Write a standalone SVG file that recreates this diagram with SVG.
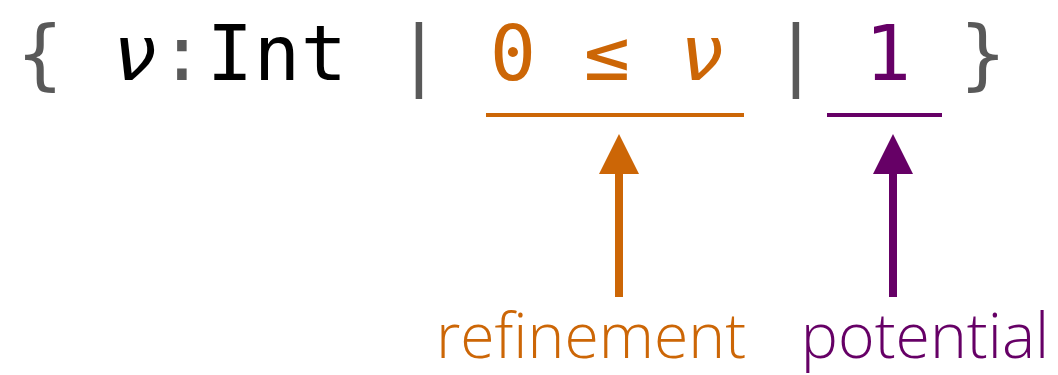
<svg xmlns="http://www.w3.org/2000/svg" width="1058" height="375" viewBox="0 0 1058 375">
<style>
.m{font-family:"DejaVu Sans Mono","Liberation Mono",monospace;font-size:77px;text-anchor:middle}
.g{fill:#595959}.k{fill:#000}.o{fill:#CC6606}.p{fill:#660066}
.i{font-style:italic}
.lbl{font-family:"Open Sans","Noto Sans",sans-serif;font-weight:300;font-size:62.5px;text-anchor:middle}
</style>
<defs>
<marker id="ao" viewBox="0 0 5 5" refX="0" refY="2.5" markerWidth="5" markerHeight="5" orient="auto" markerUnits="strokeWidth"><path d="M0,0L5,2.5L0,5z" fill="#CC6606"/></marker>
<marker id="ap" viewBox="0 0 5 5" refX="0" refY="2.5" markerWidth="5" markerHeight="5" orient="auto" markerUnits="strokeWidth"><path d="M0,0L5,2.5L0,5z" fill="#660066"/></marker>
</defs>
<g id="type">
<text class="m g" x="40" y="80">{</text>
<text class="m k i" x="135" y="80">ν</text>
<text class="m g" x="182" y="80">:</text>
<text class="m k" x="230" y="80">I</text>
<text class="m k" x="277" y="80">n</text>
<text class="m k" x="324" y="80">t</text>
<text class="m g" x="419" y="80">|</text>
<text class="m o" x="513" y="80">0</text>
<text class="m o" x="607" y="80">≤</text>
<text class="m o i" x="702" y="80">ν</text>
<text class="m g" x="796" y="80">|</text>
<text class="m p" x="888" y="80">1</text>
<text class="m g" x="983" y="80">}</text>
</g>
<g id="underlines">
<rect x="486" y="113" width="258" height="4" fill="#CC6606"/>
<rect x="827" y="113" width="115" height="4" fill="#660066"/>
</g>
<g id="connectors">
<line x1="619" y1="297" x2="619" y2="174" stroke="#CC6606" stroke-width="8" marker-end="url(#ao)"/>
<line x1="893" y1="297" x2="893" y2="174" stroke="#660066" stroke-width="8" marker-end="url(#ap)"/>
</g>
<g id="refinement"><text class="lbl o" x="591" y="358">refinement</text></g>
<g id="potential"><text class="lbl p" x="925" y="358">potential</text></g>
</svg>
